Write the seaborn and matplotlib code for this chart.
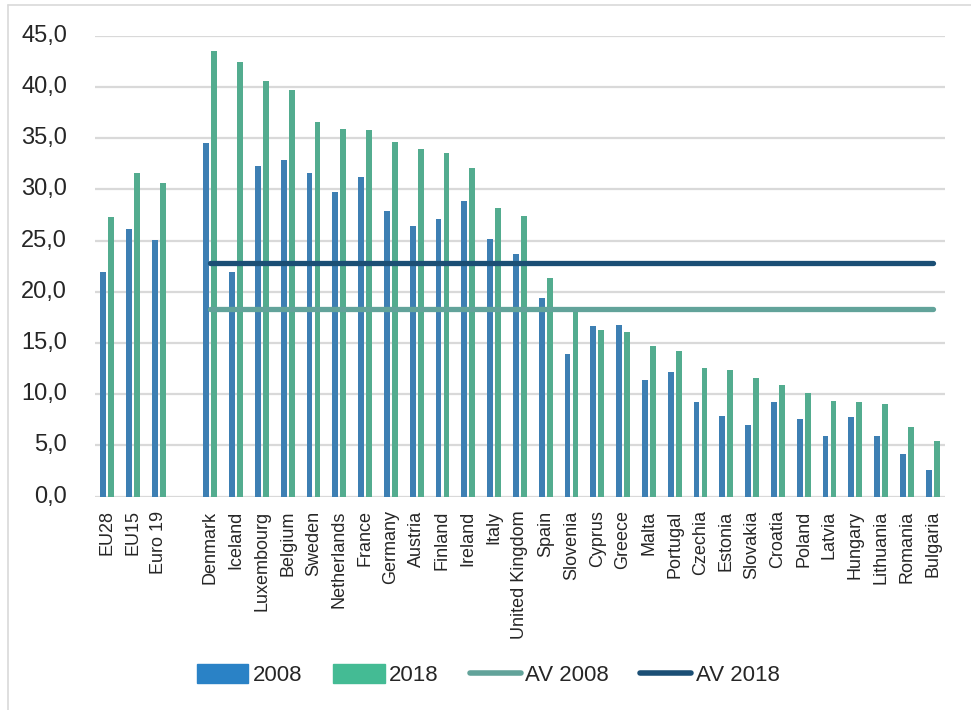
import numpy as np
import pandas as pd
import seaborn as sns
import matplotlib.pyplot as plt
from matplotlib.patches import Patch
from matplotlib.lines import Line2D
from matplotlib.ticker import FuncFormatter, MultipleLocator

# Data
groups = ['EU28', 'EU15', 'Euro 19']
groups_2008 = [21.9, 26.1, 25.1]
groups_2018 = [27.3, 31.6, 30.6]

countries = ['Denmark', 'Iceland', 'Luxembourg', 'Belgium', 'Sweden', 'Netherlands',
             'France', 'Germany', 'Austria', 'Finland', 'Ireland', 'Italy',
             'United Kingdom', 'Spain', 'Slovenia', 'Cyprus', 'Greece', 'Malta',
             'Portugal', 'Czechia', 'Estonia', 'Slovakia', 'Croatia', 'Poland',
             'Latvia', 'Hungary', 'Lithuania', 'Romania', 'Bulgaria']
countries_2008 = [34.5, 21.9, 32.3, 32.9, 31.6, 29.8, 31.2, 27.9, 26.4, 27.1, 28.9, 25.2,
                  23.7, 19.4, 13.9, 16.7, 16.8, 11.4, 12.2, 9.2, 7.9, 7.0, 9.2, 7.6,
                  5.9, 7.8, 5.9, 4.2, 2.6]
countries_2018 = [43.5, 42.5, 40.6, 39.7, 36.6, 35.9, 35.8, 34.6, 34.0, 33.6, 32.1, 28.2,
                  27.4, 21.4, 18.2, 16.3, 16.1, 14.7, 14.2, 12.6, 12.4, 11.6, 10.9, 10.1,
                  9.3, 9.2, 9.0, 6.8, 5.4]
av_2008 = 18.3
av_2018 = 22.8

blue = '#2A82C6'
green = '#44BB94'
av08_color = '#62A39A'
av18_color = '#1B4F75'
grid_color = '#D9D9D9'

# long table for seaborn
order = groups + [' '] + countries
df = pd.DataFrame({
    'country': groups + countries + groups + countries,
    'value': groups_2008 + countries_2008 + groups_2018 + countries_2018,
    'year': ['2008'] * (len(groups) + len(countries)) + ['2018'] * (len(groups) + len(countries)),
})

sns.set_style('white')
plt.rcParams['font.family'] = ['Liberation Sans', 'DejaVu Sans']

fig = plt.figure(figsize=(9.71, 7.10), dpi=100)
ax = fig.add_axes([0.0978, 0.3007, 0.8752, 0.6486])

sns.barplot(data=df, x='country', y='value', hue='year', order=order,
            palette=[blue, green], width=0.62, gap=0.26, linewidth=0,
            ax=ax, legend=False)

# average lines over the country range
pos = [order.index(c) for c in countries]
sns.lineplot(x=pos, y=[av_2008] * len(pos), color=av08_color, lw=3.8,
             solid_capstyle='round', ax=ax)
sns.lineplot(x=pos, y=[av_2018] * len(pos), color=av18_color, lw=3.8,
             solid_capstyle='round', ax=ax)

ax.set_ylim(0, 45)
ax.set_xlim(-0.47, len(order) - 1 + 0.47)
ax.yaxis.set_major_locator(MultipleLocator(5))
ax.yaxis.set_major_formatter(FuncFormatter(lambda v, p: f'{v:.1f}'.replace('.', ',')))
ax.yaxis.grid(True, color=grid_color, lw=1.6)
ax.set_axisbelow(True)
for s in ax.spines.values():
    s.set_visible(False)
ax.set_xlabel('')
ax.set_ylabel('')
ax.tick_params(axis='y', length=0, pad=20, labelsize=17)
ax.tick_params(axis='x', length=0, pad=10, labelsize=13, labelrotation=90)
for t in ax.get_yticklabels():
    t.set_verticalalignment('center')

handles = [Patch(color=blue), Patch(color=green),
           Line2D([], [], color=av08_color, lw=4, solid_capstyle='round'),
           Line2D([], [], color=av18_color, lw=4, solid_capstyle='round')]
fig.legend(handles, ['2008', '2018', 'AV 2008', 'AV 2018'], loc='center',
           bbox_to_anchor=(0.503, 0.049), ncol=4, frameon=False, fontsize=16,
           handlelength=2.3, handleheight=0.9, handletextpad=0.2, columnspacing=1.4)

# chart frame (top and left edge visible)
fig.add_artist(Line2D([8 / 971, 1], [1 - 5 / 710, 1 - 5 / 710], color=grid_color, lw=1.2))
fig.add_artist(Line2D([8 / 971, 8 / 971], [0, 1 - 5 / 710], color=grid_color, lw=1.2))

fig.savefig('out.png', dpi=100)
